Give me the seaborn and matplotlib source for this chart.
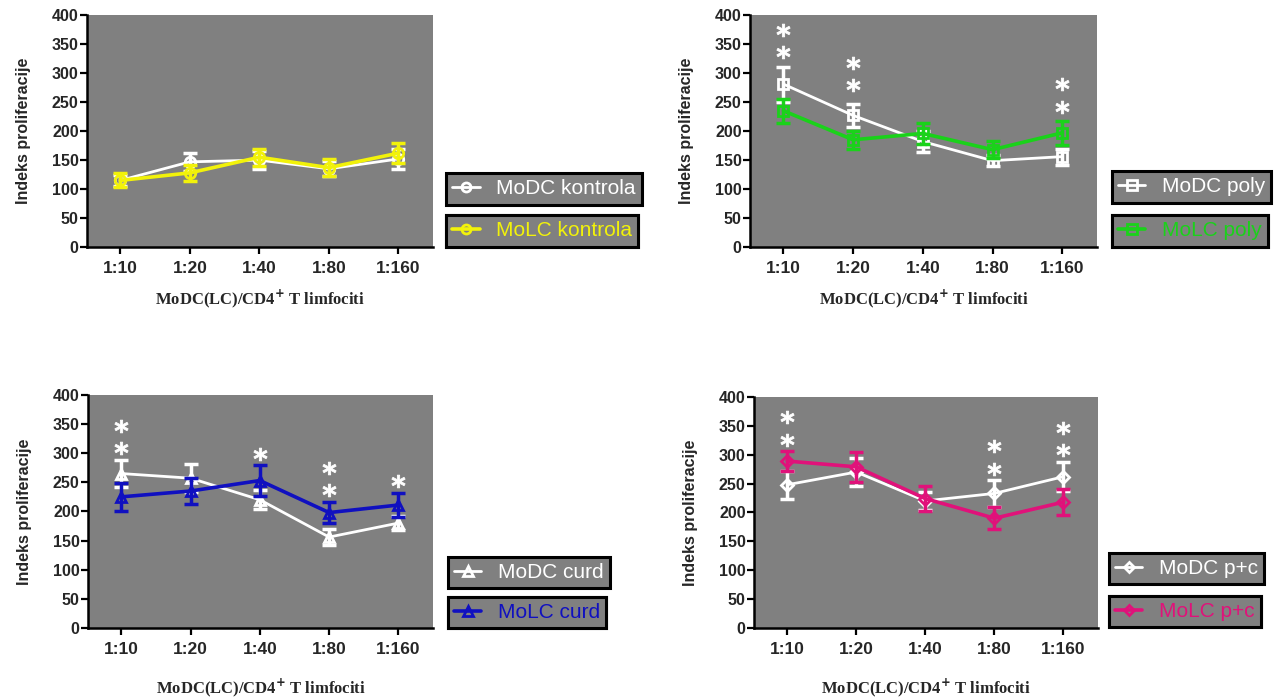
import numpy as np
import pandas as pd
import seaborn as sns
import matplotlib
matplotlib.use('Agg')
import matplotlib.pyplot as plt
from matplotlib.lines import Line2D

# odnosi MoDC(LC) : CD4+ T limfociti
ratios = ['1:10', '1:20', '1:40', '1:80', '1:160']

# kontrola
modc_kontrola = [115, 147, 150, 135, 152]
modc_kontrola_err = [10, 15, 15, 13, 17]
molc_kontrola = [115, 128, 155, 137, 162]
molc_kontrola_err = [12, 14, 15, 15, 17]

# poly
modc_poly = [281, 227, 182, 149, 156]
modc_poly_err = [30, 20, 18, 10, 14]
molc_poly = [235, 185, 196, 168, 197]
molc_poly_err = [21, 15, 18, 15, 21]

# curd
modc_curd = [265, 257, 220, 156, 180]
modc_curd_err = [23, 24, 16, 13, 12]
molc_curd = [225, 235, 253, 198, 211]
molc_curd_err = [24, 22, 27, 18, 21]

# p+c
modc_pc = [248, 270, 220, 233, 262]
modc_pc_err = [24, 25, 15, 24, 25]
molc_pc = [289, 279, 224, 190, 218]
molc_pc_err = [18, 26, 22, 19, 22]

# zvezdice (indeks odnosa, visina)
poly_stars_x = [0, 0, 1, 1, 4, 4]
poly_stars_y = [374, 337, 317, 279, 281, 242]
curd_stars_x = [0, 0, 2, 3, 3, 4]
curd_stars_y = [347, 308, 298, 274, 236, 253]
pc_stars_x = [0, 0, 3, 3, 4, 4]
pc_stars_y = [365, 326, 315, 276, 346, 308]

gray = '#808080'
sns.set_style('ticks', {'axes.facecolor': gray})
plt.rcParams['font.family'] = ['Liberation Sans', 'DejaVu Sans']

fig = plt.figure(figsize=(12.85, 7), dpi=100)

panels = [
    dict(rect=[0.0677, 0.647, 0.2693, 0.3314], marker='o', color='#f2f20a',
         modc=(modc_kontrola, modc_kontrola_err), molc=(molc_kontrola, molc_kontrola_err),
         names=('MoDC kontrola', 'MoLC kontrola'), stars=None,
         leg=(1.038, 0.319, 0.138), xlab_pad=8),
    dict(rect=[0.5837, 0.647, 0.2700, 0.3314], marker='s', color='#1ad21a',
         modc=(modc_poly, modc_poly_err), molc=(molc_poly, molc_poly_err),
         names=('MoDC poly', 'MoLC poly'), stars=(poly_stars_x, poly_stars_y),
         leg=(1.043, 0.328, 0.138), xlab_pad=8),
    dict(rect=[0.0685, 0.1029, 0.2685, 0.3330], marker='^', color='#1010c0',
         modc=(modc_curd, modc_curd_err), molc=(molc_curd, molc_curd_err),
         names=('MoDC curd', 'MoLC curd'), stars=(curd_stars_x, curd_stars_y),
         leg=(1.043, 0.305, 0.133), xlab_pad=14),
    dict(rect=[0.5868, 0.1029, 0.2677, 0.3300], marker='D', color='#e0127a',
         modc=(modc_pc, modc_pc_err), molc=(molc_pc, molc_pc_err),
         names=('MoDC p+c', 'MoLC p+c'), stars=(pc_stars_x, pc_stars_y),
         leg=(1.032, 0.325, 0.139), xlab_pad=14),
]

pos = np.arange(len(ratios))

for p in panels:
    ax = fig.add_axes(p['rect'])
    ax.set_facecolor(gray)
    series = [(p['modc'], 'white', 2.0), (p['molc'], p['color'], 2.6)]
    ms = 6.5 if p['marker'] == 'D' else 7.5
    for (vals, errs), col, lw in series:
        df = pd.DataFrame({'x': pos, 'y': vals})
        sns.lineplot(data=df, x='x', y='y', ax=ax, color=col, lw=lw,
                     marker=p['marker'], markersize=ms, markerfacecolor='none',
                     markeredgecolor=col, markeredgewidth=2, legend=False)
        ax.errorbar(pos, vals, yerr=errs, fmt='none', ecolor=col,
                    elinewidth=2.5, capsize=5, capthick=2.5)
    if p['stars'] is not None:
        sx, sy = p['stars']
        ax.plot(sx, sy, ls='none', marker='$\\mathbf{*}$', markersize=9.5,
                color='white', markeredgewidth=0.6, markeredgecolor='white')

    ax.set_xlim(-0.48, 4.5)
    ax.set_ylim(0, 400)
    ax.set_yticks(range(0, 401, 50))
    ax.set_xticks(pos)
    ax.set_xticklabels(ratios)
    for s in ['top', 'right']:
        ax.spines[s].set_visible(False)
    for s in ['left', 'bottom']:
        ax.spines[s].set_linewidth(1.8)
        ax.spines[s].set_color('black')
    ax.tick_params(axis='both', length=5, width=1.6, color='black')
    ax.tick_params(axis='y', labelsize=11.5, pad=1)
    ax.tick_params(axis='x', labelsize=12.5, pad=5)
    for t in ax.get_xticklabels() + ax.get_yticklabels():
        t.set_fontweight('bold')
    ax.set_ylabel('Indeks proliferacije', fontsize=11.5, fontweight='bold', labelpad=15)
    ax.set_xlabel('MoDC(LC)/CD4$^{\\mathbf{+}}$ T limfociti', fontsize=12,
                  fontweight='bold', family='Liberation Serif', labelpad=p['xlab_pad'])

    lx, ly1, ly2 = p['leg']
    for (name, col, lw), ly in zip([(p['names'][0], 'white', 2.0),
                                    (p['names'][1], p['color'], 2.6)], [ly1, ly2]):
        h = Line2D([], [], color=col, lw=lw, marker=p['marker'], markersize=ms - 1,
                   markerfacecolor='none', markeredgecolor=col, markeredgewidth=2)
        leg = ax.legend(handles=[h], labels=[name], loc='upper left',
                        bbox_to_anchor=(lx, ly), borderaxespad=0, frameon=True,
                        fancybox=False, facecolor=gray, edgecolor='black',
                        framealpha=1, labelcolor=col, fontsize=15,
                        handlelength=1.3, handletextpad=0.8, borderpad=0.3)
        leg.get_frame().set_linewidth(2.2)
        ax.add_artist(leg)

fig.savefig('out.png', dpi=100)
